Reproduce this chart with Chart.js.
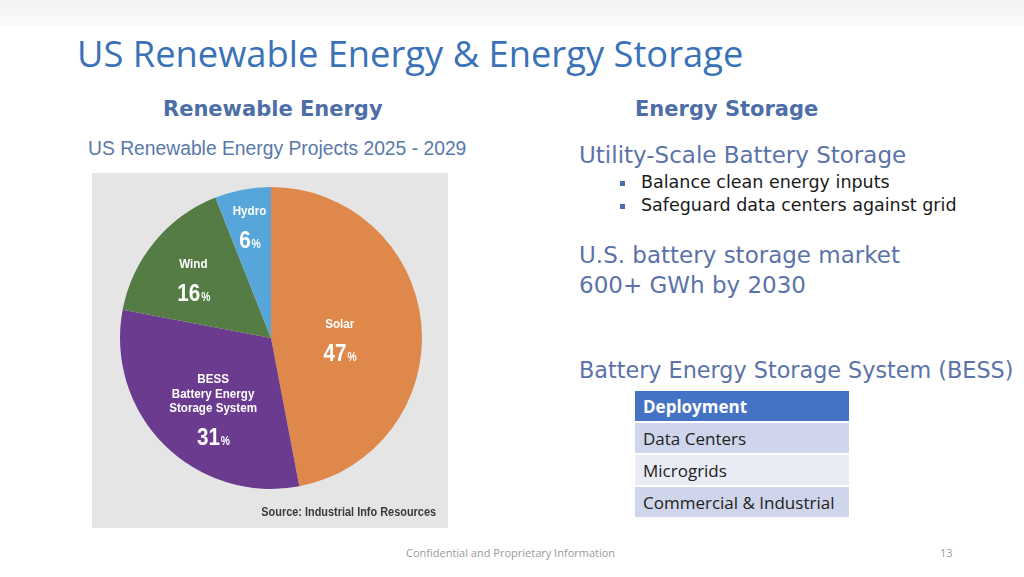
<!DOCTYPE html>
<html>
<head>
<meta charset="utf-8">
<script src="https://cdn.jsdelivr.net/npm/chart.js@4.4.1/dist/chart.umd.min.js"></script>
<style>
  html, body { margin: 0; padding: 0; background: #fff; }
  body { width: 1024px; height: 577px; position: relative; overflow: hidden; }
  .abs { position: absolute; white-space: nowrap; }
  #topband { left: 0; top: 0; width: 1024px; height: 26px; background: linear-gradient(#f3f3f3, #fbfbfb); }
  #title { left: 77px; top: 28px; font: 36.3px "Open Sans", sans-serif; color: #3a72b8; }
  .sub { font: bold 21px "DejaVu Sans", sans-serif; color: #4d6ea8; }
  #projTitle { left: 88px; top: 138px; font: 19.3px "Liberation Sans", Arial, sans-serif; color: #5878ab; }
  #pieBox { left: 92px; top: 173px; width: 356px; height: 355px; background: #e5e5e5; }
  #source { right: 12px; bottom: 9px; font: bold 12px "Liberation Sans", sans-serif; color: #3a3a3a;
            transform: scaleX(0.91); transform-origin: right center; }
  .blue { font: 23px "DejaVu Sans", sans-serif; color: #5b73a9; }
  .bullet { font: 17.5px "DejaVu Sans", sans-serif; color: #1a1a1a; }
  .bullet::before { content: ""; position: absolute; left: -21px; top: 9px; width: 5px; height: 5px; background: #4a6fb0; }
  #deploy { left: 635px; top: 389px; border-collapse: separate; border-spacing: 0 2px; width: 214px; }
  #deploy td { height: 30px; padding: 0 0 0 8px; font: 17px "Open Sans", sans-serif; color: #222; }
  #footer { left: 406px; top: 545px; font: 11px "Open Sans", sans-serif; color: #9a9a9a; }
  #pageNo { left: 940px; top: 545px; font: 11px "Open Sans", sans-serif; color: #9a9a9a; }
</style>
</head>
<body>
<div id="topband" class="abs"></div>
<div id="title" class="abs">US Renewable Energy &amp; Energy Storage</div>

<div class="abs sub" style="left:163px; top:97px;">Renewable Energy</div>
<div class="abs sub" style="left:635px; top:97px;">Energy Storage</div>
<div id="projTitle" class="abs">US Renewable Energy Projects 2025 - 2029</div>

<div id="pieBox" class="abs">
  <canvas id="pie"></canvas>
  <div id="source" class="abs">Source: Industrial Info Resources</div>
</div>

<div class="abs blue" style="left:579px; top:142px;">Utility-Scale Battery Storage</div>
<div class="abs bullet" style="left:641px; top:172px;">Balance clean energy inputs</div>
<div class="abs bullet" style="left:641px; top:195px;">Safeguard data centers against grid</div>
<div class="abs blue" style="left:579px; top:242px;">U.S. battery storage market</div>
<div class="abs blue" style="left:579px; top:272px;">600+ GWh by 2030</div>
<div class="abs blue" style="left:579px; top:357px; font-size:22.3px;">Battery Energy Storage System (BESS)</div>

<table id="deploy" class="abs"></table>

<div id="footer" class="abs">Confidential and Proprietary Information</div>
<div id="pageNo" class="abs">13</div>

<script>
// Pie data: share of US renewable energy projects 2025-2029 (%)
const categories = ["Solar", "BESS", "Wind", "Hydro"];
const labelLines = [["Solar"], ["BESS", "Battery Energy", "Storage System"], ["Wind"], ["Hydro"]];
const shares     = [47, 31, 16, 6];
const sliceColors = ["#de884c", "#6a3b8e", "#547c44", "#56a6db"];

// Deployment table
const deployHeader = "Deployment";
const deployRows   = ["Data Centers", "Microgrids", "Commercial & Industrial"];

// build the table
const table = document.getElementById("deploy");
const rowFills = ["#cfd5ea", "#e9ebf5", "#cfd5ea"];
let html = '<tr><td style="background:#4472c4;color:#fff;font-weight:bold;">' + deployHeader + '</td></tr>';
deployRows.forEach((r, i) => {
  html += '<tr><td style="background:' + rowFills[i] + '">' + r.replace("&", "&amp;") + '</td></tr>';
});
table.innerHTML = html;

// Draws the white labels inside each slice (no datalabels plugin offline)
const LBL_FONT = "'Liberation Sans', Arial, sans-serif";
const sliceLabels = {
  id: "sliceLabels",
  afterDatasetsDraw(chart, args, opts) {
    const ctx = chart.ctx;
    const meta = chart.getDatasetMeta(0);
    const sx = opts.squeeze;
    meta.data.forEach((arc, i) => {
      const mid = (arc.startAngle + arc.endAngle) / 2;
      const r = arc.outerRadius * opts.dist[i];
      const x = arc.x + Math.cos(mid) * r + opts.nudge[i][0];
      const y = arc.y + Math.sin(mid) * r + opts.nudge[i][1];
      const lines = labelLines[i];
      const total = (lines.length - 1) * 14.5 + 28;
      const top = y - total / 2;
      ctx.save();
      // condensed look: squeeze horizontally around the label centre
      ctx.translate(x, 0);
      ctx.scale(sx, 1);
      ctx.fillStyle = "#fff";
      ctx.textAlign = "center";
      ctx.textBaseline = "middle";
      ctx.font = "bold 13.5px " + LBL_FONT;
      lines.forEach((ln, k) => ctx.fillText(ln, 0, top + k * 14.5));
      // big number with small %
      const py = top + (lines.length - 1) * 14.5 + 28;
      const num = String(shares[i]);
      ctx.font = "bold 24px " + LBL_FONT;
      const nw = ctx.measureText(num).width;
      ctx.font = "bold 12px " + LBL_FONT;
      const pw = ctx.measureText("%").width;
      const x0 = -(nw + pw) / 2;
      ctx.textAlign = "left";
      ctx.textBaseline = "alphabetic";
      ctx.font = "bold 24px " + LBL_FONT;
      ctx.fillText(num, x0, py + 9);
      ctx.font = "bold 12px " + LBL_FONT;
      ctx.fillText("%", x0 + nw + 1, py + 9);
      ctx.restore();
    });
  }
};

new Chart(document.getElementById("pie"), {
  type: "pie",
  data: {
    labels: categories,
    datasets: [{
      data: shares,
      backgroundColor: sliceColors,
      borderWidth: 0,
      hoverOffset: 0
    }]
  },
  options: {
    responsive: true,
    maintainAspectRatio: false,
    animation: false,
    layout: { padding: { left: 28, right: 26, top: 14, bottom: 39 } },
    plugins: {
      legend: { display: false },
      tooltip: { enabled: false },
      sliceLabels: {
        dist: [0.47, 0.58, 0.65, 0.76],
        nudge: [[-2, 7], [4, 8], [-2, 3], [0, 0]],
        squeeze: 0.86
      }
    }
  },
  plugins: [sliceLabels]
});
</script>
</body>
</html>
